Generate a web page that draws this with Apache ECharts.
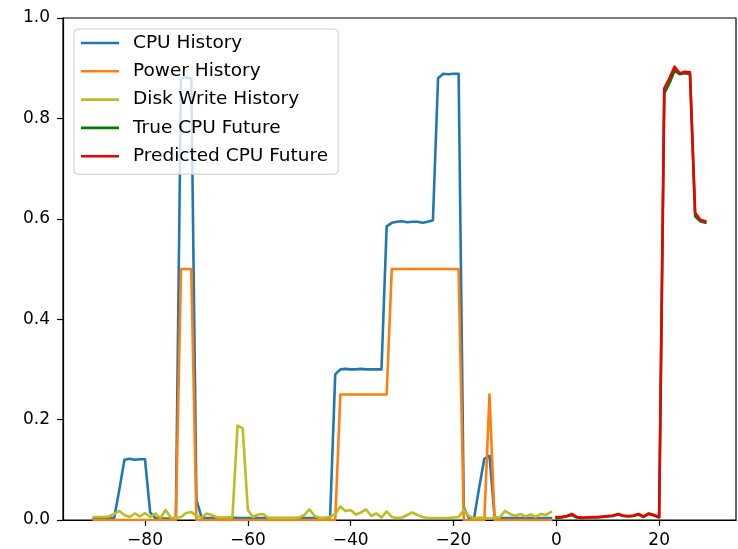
<!DOCTYPE html>
<html>
<head>
<meta charset="utf-8">
<script src="https://cdn.jsdelivr.net/npm/echarts@6/dist/echarts.min.js"></script>
<style>
html,body{margin:0;padding:0;background:#fff;}
#chart{width:738px;height:549px;}
</style>
</head>
<body>
<div id="chart"></div>
<script>
// ---- data ----
const historyStart = -90; // first history time step
const futureStart = 0;     // first future time step

const cpuHistory = [
  0.003,0.003,0.003,0.003,0.004,0.06,0.12,0.122,0.12,0.121,
  0.121,0.015,0.004,0.003,0.003,0.003,0.003,0.88,0.882,0.88,
  0.04,0.005,0.004,0.004,0.004,0.004,0.004,0.005,0.004,0.004,
  0.004,0.004,0.004,0.004,0.004,0.004,0.004,0.004,0.004,0.004,
  0.004,0.004,0.004,0.004,0.004,0.004,0.005,0.29,0.30,0.301,
  0.30,0.30,0.301,0.30,0.30,0.30,0.30,0.585,0.592,0.594,
  0.595,0.593,0.594,0.594,0.592,0.594,0.597,0.88,0.889,0.888,
  0.889,0.889,0.025,0.004,0.003,0.065,0.122,0.128,0.005,0.004,
  0.004,0.004,0.004,0.004,0.004,0.004,0.004,0.004,0.004,0.004
];
const powerHistory = [
  0,0,0,0,0,0,0,0,0,0,
  0,0,0,0,0,0,0,0.5,0.5,0.5,
  0,0,0,0,0,0,0,0,0,0,
  0,0,0,0,0,0,0,0,0,0,
  0,0,0,0,0,0,0,0,0.25,0.25,
  0.25,0.25,0.25,0.25,0.25,0.25,0.25,0.25,0.5,0.5,
  0.5,0.5,0.5,0.5,0.5,0.5,0.5,0.5,0.5,0.5,
  0.5,0.5,0,0,0,0,0,0.25,0,0,
  0,0,0,0,0,0,0,0,0,0
];
const diskWriteHistory = [
  0.006,0.006,0.006,0.007,0.012,0.018,0.01,0.006,0.013,0.007,
  0.014,0.006,0.013,0.004,0.02,0.005,0.004,0.006,0.014,0.016,
  0.008,0.005,0.013,0.01,0.005,0.005,0.005,0.005,0.188,0.183,
  0.02,0.006,0.011,0.012,0.004,0.004,0.004,0.004,0.004,0.004,
  0.005,0.01,0.021,0.008,0.004,0.004,0.006,0.012,0.027,0.018,
  0.02,0.011,0.015,0.021,0.008,0.013,0.005,0.017,0.006,0.004,
  0.005,0.01,0.015,0.01,0.006,0.004,0.004,0.004,0.004,0.004,
  0.005,0.006,0.02,0.008,0.003,0.005,0.004,0.003,0.005,0.005,
  0.018,0.012,0.008,0.012,0.007,0.011,0.006,0.012,0.01,0.016
];
const trueCpuFuture = [
  0.004,0.005,0.007,0.01,0.005,0.004,0.005,0.005,0.005,0.006,
  0.007,0.008,0.011,0.008,0.007,0.008,0.011,0.006,0.012,0.009,
  0.005,0.85,0.87,0.895,0.888,0.89,0.888,0.605,0.595,0.592
];
const predictedCpuFuture = [
  0.006,0.006,0.008,0.012,0.006,0.005,0.005,0.006,0.006,0.007,
  0.008,0.009,0.012,0.009,0.008,0.009,0.012,0.007,0.013,0.01,
  0.006,0.86,0.88,0.903,0.89,0.893,0.892,0.612,0.598,0.595
];
const seriesNames = ['CPU History','Power History','Disk Write History','True CPU Future','Predicted CPU Future'];
const xTicks = [-80,-60,-40,-20,0,20];
const yTicks = [0,0.2,0.4,0.6,0.8,1.0];

// ---- build ----
function pairs(arr, start){ return arr.map((v,i)=>[start+i, v]); }
const colors = ['#1f77b4','#ff7f0e','#bcbd22','#007a00','#ee0000'];
const seriesData = [
  pairs(cpuHistory, historyStart),
  pairs(powerHistory, historyStart),
  pairs(diskWriteHistory, historyStart),
  pairs(trueCpuFuture, futureStart),
  pairs(predictedCpuFuture, futureStart)
];
const font = 'DejaVu Sans';
const fmtMinus = v => (v < 0 ? '\u2212' + Math.abs(v) : String(v));

const chart = echarts.init(document.getElementById('chart'), null, {renderer:'canvas'});
chart.setOption({
  animation:false,
  backgroundColor:'#fff',
  grid:{left:63, top:18, right:2, bottom:29, show:true, borderColor:'#000', borderWidth:1.2, backgroundColor:'transparent'},
  xAxis:{
    type:'value', min:-95.95, max:34.95,
    axisLine:{show:true, onZero:false, lineStyle:{color:'#000', width:1.2}},
    axisTick:{show:true, length:6, lineStyle:{color:'#000', width:1.2}, customValues:xTicks},
    axisLabel:{color:'#000', fontFamily:font, fontSize:17, margin:12, customValues:xTicks, formatter:fmtMinus},
    splitLine:{show:false}
  },
  yAxis:{
    type:'value', min:0, max:1,
    axisLine:{show:true, onZero:false, lineStyle:{color:'#000', width:1.2}},
    axisTick:{show:true, length:6, lineStyle:{color:'#000', width:1.2}, customValues:yTicks},
    axisLabel:{color:'#000', fontFamily:font, fontSize:17, margin:13, customValues:yTicks, formatter:v=>v.toFixed(1)},
    splitLine:{show:false}
  },
  legend:{
    orient:'vertical', left:74, top:29,
    data:seriesNames, icon:'rect', itemWidth:38, itemHeight:2.6, itemGap:8.3,
    itemStyle:{borderWidth:0},
    textStyle:{color:'#000', fontFamily:font, fontSize:18.5, lineHeight:20, padding:[0,0,0,9]},
    padding:[4,10,8,7],
    backgroundColor:'rgba(255,255,255,0.8)',
    borderColor:'#cccccc', borderWidth:1, borderRadius:4,
    selectedMode:false
  },
  series: seriesNames.map((n,i)=>({
    name:n, type:'line', data:seriesData[i], showSymbol:false, symbol:'none',
    lineStyle:{color:colors[i], width:2.6, cap:'round', join:'round'},
    itemStyle:{color:colors[i]},
    z:2+i*0.01
  }))
});
</script>
</body>
</html>
